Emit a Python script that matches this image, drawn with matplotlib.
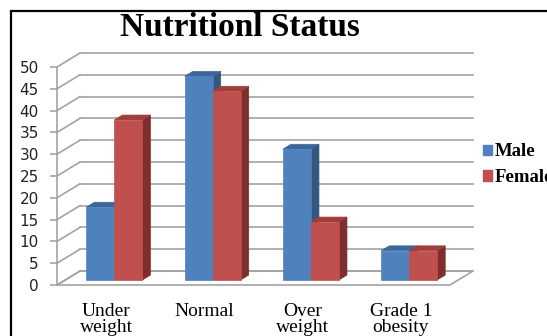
import matplotlib.pyplot as plt
from matplotlib.patches import Polygon, Rectangle, Patch

# Data: percentage of each sex in each nutritional category
categories = ["Under\nweight", "Normal", "Over\nweight", "Grade 1\nobesity"]
male = [16.7, 46.7, 30.0, 6.7]
female = [36.7, 43.3, 13.3, 6.7]
series_names = ["Male", "Female"]
yticks = list(range(0, 55, 5))

W, H = 547, 336
fig = plt.figure(figsize=(W / 100, H / 100), dpi=100)
fig.patch.set_facecolor("white")

# Front plane of the pseudo-3D chart
ax = fig.add_axes([57 / W, 51 / H, 393 / W, 218 / H])
ax.set_xlim(0, len(categories))
ax.set_ylim(0, 50)
ax.patch.set_alpha(0)

# Depth of the box in data units
DX = 23 / 98.25
DY = 14 / 4.36
grid_c = "#a3a3a3"
n = len(categories)

# Floor
floor = Polygon([(0, 0), (n, 0), (n + DX, DY), (DX, DY)], closed=True,
                facecolor="white", edgecolor=grid_c, lw=1.2, clip_on=False, zorder=1)
ax.add_patch(floor)

# Left wall diagonals and back wall gridlines
for v in yticks:
    ax.plot([0, DX], [v, v + DY], color=grid_c, lw=1.2, clip_on=False, zorder=1.5)
    ax.plot([DX, n + DX], [v + DY, v + DY], color=grid_c, lw=1.2, clip_on=False, zorder=1.5)

# Bars with side and top faces
w = 0.285
fd = 0.36   # depth where bar fronts sit
bd = 0.35   # bar depth
styles = [
    ("#4f81bd", "#34577f", "#3d679a"),
    ("#c0504d", "#7e2f2d", "#a13d3a"),
]
z = 3.0
for i in range(n):
    c = i + 0.5
    for j, vals in enumerate([male, female]):
        front, side, top = styles[j]
        v = vals[i]
        x0 = c - w + j * w + fd * DX
        y0 = fd * DY
        ox, oy = bd * DX, bd * DY
        ax.add_patch(Polygon([(x0 + w, y0), (x0 + w + ox, y0 + oy),
                              (x0 + w + ox, y0 + v + oy), (x0 + w, y0 + v)],
                             closed=True, facecolor=side, edgecolor=side, lw=0.5,
                             clip_on=False, zorder=z))
        ax.add_patch(Polygon([(x0, y0 + v), (x0 + w, y0 + v),
                              (x0 + w + ox, y0 + v + oy), (x0 + ox, y0 + v + oy)],
                             closed=True, facecolor=top, edgecolor=top, lw=0.5,
                             clip_on=False, zorder=z + 0.01))
        b = ax.bar(x0, v, width=w, bottom=y0, align="edge", color=front,
                   edgecolor=front, lw=0.5, zorder=z + 0.02)
        for p in b:
            p.set_clip_on(False)
        z += 0.1

# Axes styling
for s in ["top", "right", "bottom"]:
    ax.spines[s].set_visible(False)
ax.spines["left"].set_color(grid_c)
ax.spines["left"].set_linewidth(1.2)
ax.set_yticks(yticks)
ax.tick_params(axis="y", direction="out", length=5, width=1.2, color=grid_c,
               pad=8.0, labelsize=11, labelcolor="#222222")
for t in ax.get_yticklabels():
    t.set_family("DejaVu Sans")

ax.set_xticks([i + 0.5 for i in range(n)])
ax.set_xticklabels(categories, family="Liberation Serif", fontsize=14)
ax.tick_params(axis="x", length=0, pad=13)
for t in ax.get_xticklabels():
    t.set_linespacing(0.92)

# Title
fig.text(240 / W, 1 - 28 / H, "Nutritionl Status", ha="center", va="center",
         fontsize=24, fontweight="bold", family="Liberation Serif")

# Legend
handles = [Patch(facecolor=styles[k][0], edgecolor=styles[k][0]) for k in range(2)]
fig.legend(handles, series_names, loc="upper left",
           bbox_to_anchor=(475 / W, 1 - 136 / H), frameon=False,
           handlelength=0.5, handleheight=0.5, handletextpad=0.15,
           labelspacing=0.45, borderaxespad=0,
           prop={"family": "Liberation Serif", "weight": "bold", "size": 13.5})

# Outer chart frame
fig.add_artist(Rectangle((10.5 / W, -0.1), 1.2, 1.1 - 10.5 / H,
                         transform=fig.transFigure, fill=False,
                         edgecolor="black", lw=1.6))

fig.savefig("out.png", dpi=100)
